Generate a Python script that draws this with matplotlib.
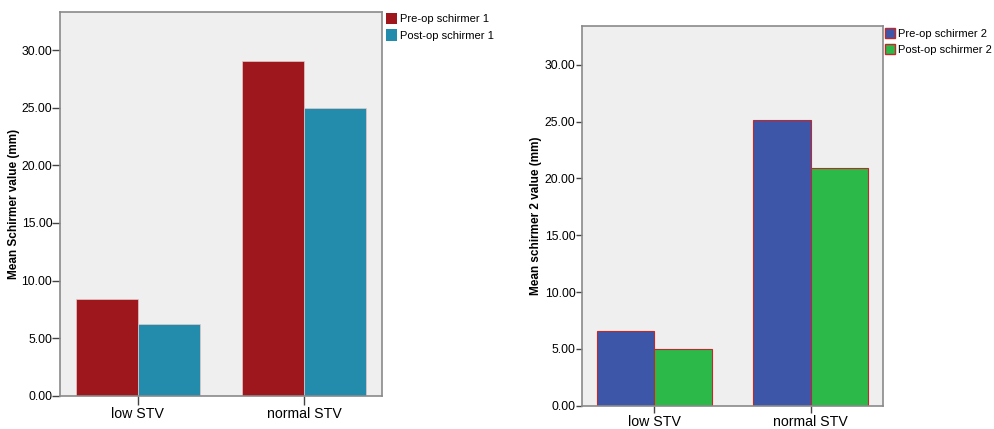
import numpy as np
from matplotlib import pyplot as plt
from matplotlib.patches import Patch

plt.rcParams['font.family'] = ['Liberation Sans', 'DejaVu Sans']

# Dados
categorias = ['low STV', 'normal STV']
pre_schirmer1 = [8.37, 29.03]
post_schirmer1 = [6.2, 25.0]
pre_schirmer2 = [6.55, 25.15]
post_schirmer2 = [5.02, 20.92]
yticks = [0, 5, 10, 15, 20, 25, 30]

fig = plt.figure(figsize=(9.95, 4.29), dpi=100)
ax1 = fig.add_axes([0.0603, 0.0776, 0.3236, 0.895])
ax2 = fig.add_axes([0.5846, 0.0543, 0.3025, 0.8858])

def painel(ax, pre, post, cor_pre, cor_post, borda, lw, largura, ylabel, ylim, xlim,
           tick_x, tick_y, label_x):
    x = np.arange(len(categorias))
    ax.bar(x - largura / 2, pre, largura, color=cor_pre, edgecolor=borda, linewidth=lw)
    ax.bar(x + largura / 2, post, largura, color=cor_post, edgecolor=borda, linewidth=lw)
    ax.set_facecolor('#efefef')
    ax.set_xlim(*xlim)
    ax.set_ylim(0, ylim)
    ax.set_xticks(x)
    ax.set_xticklabels(categorias, fontsize=10.2)
    ax.set_yticks(yticks)
    ax.set_yticklabels([f'{v:.2f}' for v in yticks], fontsize=8.8)
    ax.tick_params(axis='y', length=tick_y, width=1, color='#444444', pad=0)
    ax.tick_params(axis='x', length=tick_x, width=1, color='#444444', pad=1.5)
    for s in ax.spines.values():
        s.set_color('#8a8a8a')
        s.set_linewidth(1.2)
    ax.set_ylabel(ylabel, fontsize=8.5, fontweight='bold')
    ax.yaxis.set_label_coords(label_x, 0.5)

painel(ax1, pre_schirmer1, post_schirmer1, '#9e171c', '#238bab', '#e8c8c8', 0.5,
       0.373, 'Mean Schirmer value (mm)', 33.33, (-0.467, 1.469), 6.5, 5.5, -0.124)
painel(ax2, pre_schirmer2, post_schirmer2, '#3d56a8', '#2db84a', '#c0282a', 0.8,
       0.369, 'Mean schirmer 2 value (mm)', 33.45, (-0.464, 1.46), 5, 4.5, -0.132)

h1 = [Patch(facecolor='#9e171c', edgecolor='none', label='Pre-op schirmer 1'),
      Patch(facecolor='#238bab', edgecolor='none', label='Post-op schirmer 1')]
fig.legend(handles=h1, loc='upper left', bbox_to_anchor=(386 / 995, 1 - 13 / 429),
           frameon=False, fontsize=8, handlelength=0.95, handleheight=1.2,
           handletextpad=0.3, labelspacing=0.45, borderaxespad=0, borderpad=0)

h2 = [Patch(facecolor='#3d56a8', edgecolor='#c0282a', label='Pre-op schirmer 2'),
      Patch(facecolor='#2db84a', edgecolor='#c0282a', label='Post-op schirmer 2')]
fig.legend(handles=h2, loc='upper left', bbox_to_anchor=(885 / 995, 1 - 28 / 429),
           frameon=False, fontsize=8, handlelength=0.9, handleheight=1.0,
           handletextpad=0.25, labelspacing=0.5, borderaxespad=0, borderpad=0)

fig.savefig('out.png', dpi=100)
